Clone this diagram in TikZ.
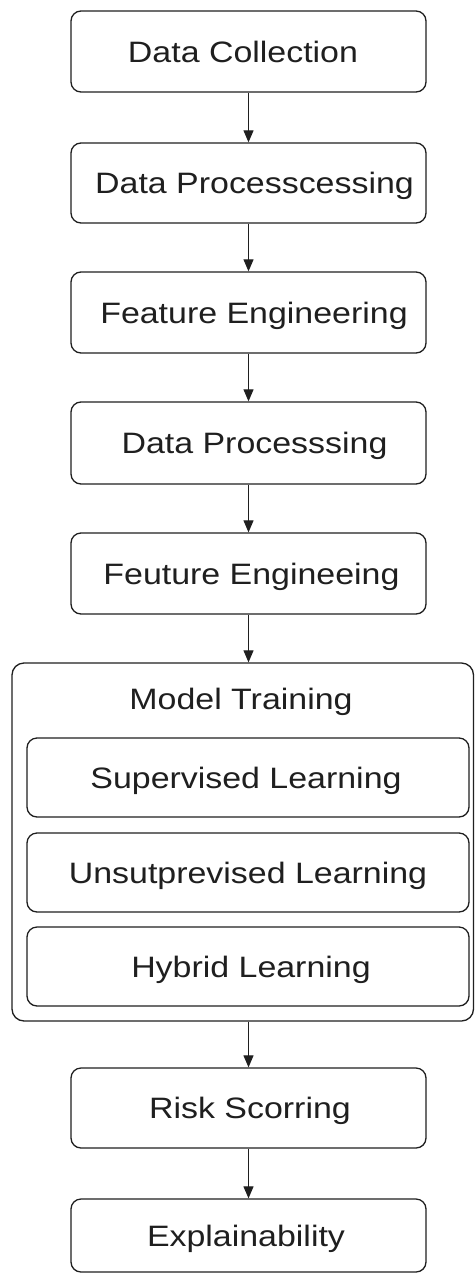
\documentclass[tikz,border=0pt]{standalone}
\usepackage{fontspec}
\setmainfont{Liberation Sans}[FakeStretch=1.15]
\usetikzlibrary{arrows.meta}
\begin{document}
\begin{tikzpicture}[x=1pt,y=-1pt,
  box/.style={draw=black!88, line width=1.3pt, rounded corners=10pt, inner sep=0pt,
    minimum width=355pt, minimum height=81pt, text=black!88,
    text height=21pt, text depth=0pt,
    font=\fontsize{29.5pt}{34pt}\selectfont},
  sub/.style={box, minimum width=442pt, minimum height=79pt},
  outerbox/.style={draw=black!88, line width=1.3pt, rounded corners=12pt, inner sep=0pt,
    minimum width=461.5pt, minimum height=358pt},
  ttl/.style={inner sep=0pt, text=black!88, text height=21pt, text depth=0pt,
    font=\fontsize{29.5pt}{34pt}\selectfont},
  arr/.style={draw=black!88, line width=1pt, -{Triangle[length=12pt,width=10pt]}}
]
\useasboundingbox (0,0) rectangle (475,1274);
\fill[white] (0,0) rectangle (475,1274);

\node[box] (n1) at (248.5,51.5) {\hspace*{-11pt}Data Collection};
\node[box, minimum height=80pt] (n2) at (248.5,183) {\hspace*{12pt}Data Processcessing};
\node[box] (n3) at (248.5,312.5) {\hspace*{11pt}Feature Engineering};
\node[box, minimum height=82pt] (n4) at (248.5,443) {\hspace*{12pt}Data Processsing};
\node[box] (n5) at (248.5,573.5) {\hspace*{6pt}Feuture Engineeing};

\node[outerbox] (mt) at (242.75,842) {};
\node[ttl] (mtt) at (241,699) {Model Training};
\node[sub] (s1) at (248,777.5) {\hspace*{-4pt}Supervised Learning};
\node[sub] (s2) at (248,872.5) {Unsutprevised Learning};
\node[sub] (s3) at (248,966.5) {\hspace*{6pt}Hybrid Learning};

\node[box, minimum height=80pt] (rs) at (248.5,1108) {\hspace*{3pt}Risk Scorring};
\node[box, minimum height=73pt] (ex) at (248.5,1235.5) {\hspace*{-5pt}Explainability};

\draw[arr] (n1.south) -- (n2.north);
\draw[arr] (n2.south) -- (n3.north);
\draw[arr] (n3.south) -- (n4.north);
\draw[arr] (n4.south) -- (n5.north);
\draw[arr] (n5.south) -- (n5.south |- mt.north);
\draw[arr] (rs.north |- mt.south) -- (rs.north);
\draw[arr] (rs.south) -- (ex.north);
\end{tikzpicture}
\end{document}
